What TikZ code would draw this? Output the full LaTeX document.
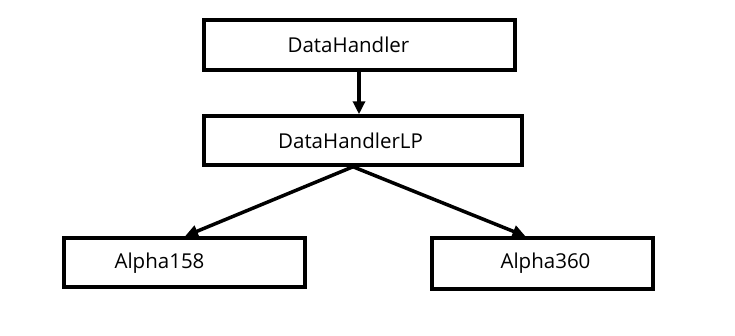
\documentclass[tikz,border=0pt]{standalone}
\usepackage{fontspec}
\setmainfont{Open Sans}
\usetikzlibrary{arrows.meta}
\begin{document}
\begin{tikzpicture}[x=1pt,y=-1pt,
  box/.style={draw=black,line width=3.5pt,rectangle,inner sep=0pt,fill=white},
  lbl/.style={inner sep=0pt,font=\fontsize{20.5}{24}\selectfont},
  conn/.style={line width=3.5pt,-{Triangle[length=13pt,width=12pt]}}]
\useasboundingbox (0,0) rectangle (735,335);
\node[box,minimum width=311pt,minimum height=50pt] (dh) at (359.5,45) {};
\node[box,minimum width=318pt,minimum height=49pt] (dhlp) at (363,140.5) {};
\node[box,minimum width=241pt,minimum height=49pt] (a158) at (184.5,262.5) {};
\node[box,minimum width=221pt,minimum height=51pt] (a360) at (542.5,263.5) {};
\node[lbl] (tdh) at (348.5,45) {DataHandler};
\node[lbl] (tdhlp) at (350.5,140.5) {DataHandlerLP};
\node[lbl] (t158) at (159.5,263) {Alpha158};
\node[lbl] (t360) at (545.5,263.5) {Alpha360};
\coordinate (top) at ([xshift=-0.5pt]dh.south);
\coordinate (split) at ([xshift=-10pt]dhlp.south);
\draw[conn] (top) -- (top |- dhlp.north);
\draw[conn] (split) -- ([xshift=0.5pt]a158.north);
\draw[conn] (split) -- ([xshift=-17pt]a360.north);
\end{tikzpicture}
\end{document}
